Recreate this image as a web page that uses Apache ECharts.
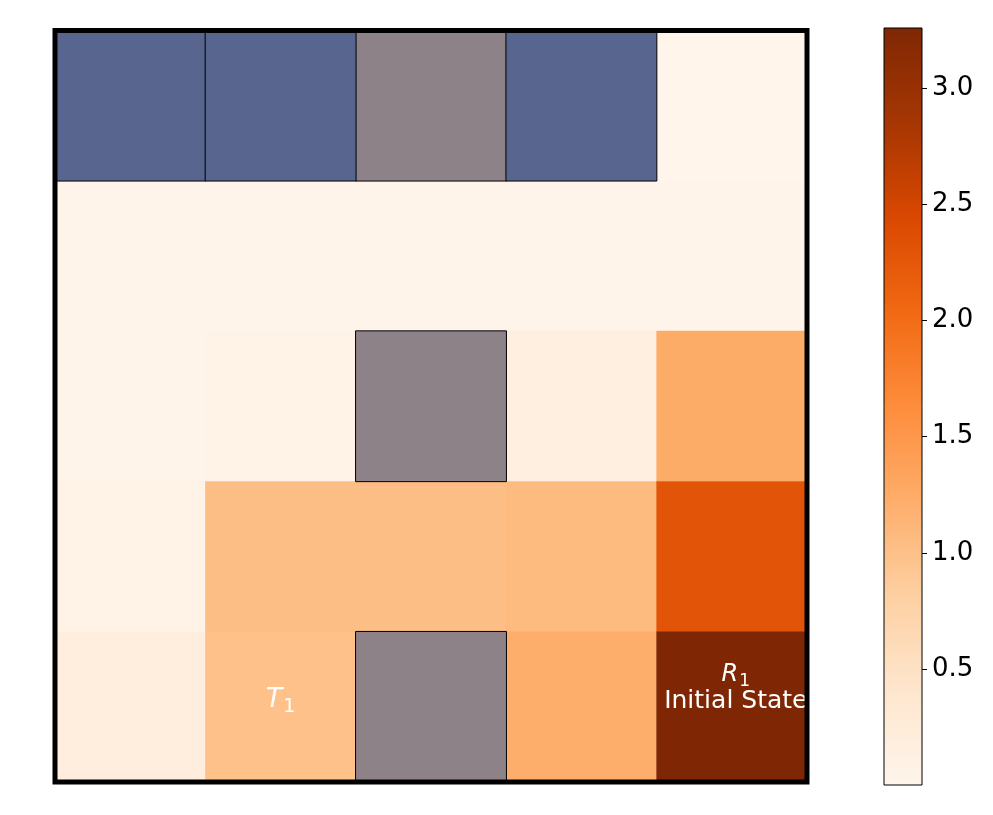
<!DOCTYPE html>
<html>
<head>
<meta charset="utf-8">
<script src="https://cdn.jsdelivr.net/npm/echarts@6/dist/echarts.min.js"></script>
<style>
  html, body { margin: 0; padding: 0; background: #fff; }
  #chart { width: 993px; height: 815px; }
</style>
</head>
<body>
<div id="chart"></div>
<script>
// ---- data ----
const cols = ['0', '1', '2', '3', '4'];
const rows = ['0', '1', '2', '3', '4'];   // row 0 is drawn at the top

// value cells: [col, row, value]
const valueCells = [
  [4, 0, 0.01],
  [0, 1, 0.02], [1, 1, 0.02], [2, 1, 0.02], [3, 1, 0.02], [4, 1, 0.02],
  [0, 2, 0.03], [1, 2, 0.06], [3, 2, 0.15], [4, 2, 1.25],
  [0, 3, 0.07], [1, 3, 1.03], [2, 3, 1.03], [3, 3, 1.07], [4, 3, 2.3],
  [0, 4, 0.18], [1, 4, 1.0], [3, 4, 1.22], [4, 4, 3.26],
];
// wall cells and visited cells: [col, row]
const wallCells = [[2, 0], [2, 2], [2, 4]];
const blueCells = [[0, 0], [1, 0], [3, 0]];

const cellLabels = [
  { col: 1, row: 4, text: '{i|T}{s|1}', offset: [0, -7] },
  { col: 4, row: 4, text: '{r|R}{s2|1}\n{t|Initial State}', offset: [4, -17] },
];

const cbarMin = 0;
const cbarMax = 3.26;
const cbarTicks = [0.5, 1.0, 1.5, 2.0, 2.5, 3.0];

// matplotlib "Oranges"
const oranges = ['#fff5eb', '#fee6ce', '#fdd0a2', '#fdae6b', '#fd8d3c',
                 '#f16913', '#d94801', '#a63603', '#7f2704'];

// ---- build ----
const chart = echarts.init(document.getElementById('chart'));

const FONT = 'DejaVu Sans';
const heatData = valueCells.map(c => {
  const lab = cellLabels.find(l => l.col === c[0] && l.row === c[1]);
  const item = { value: c };
  if (lab) {
    item.label = {
      show: true,
      formatter: lab.text,
      offset: lab.offset,
      color: '#fff',
      fontFamily: FONT,
      rich: {
        i: { fontSize: 27, fontStyle: 'italic', color: '#fff', fontFamily: FONT, lineHeight: 27, verticalAlign: 'top' },
        s: { fontSize: 19, color: '#fff', fontFamily: FONT, lineHeight: 19, verticalAlign: 'top', padding: [11, 0, 0, 1] },
        r: { fontSize: 24, fontStyle: 'italic', color: '#fff', fontFamily: FONT, lineHeight: 24, verticalAlign: 'top' },
        s2: { fontSize: 17, color: '#fff', fontFamily: FONT, lineHeight: 17, verticalAlign: 'top', padding: [10, 0, 0, 1] },
        t: { fontSize: 25, color: '#fff', fontFamily: FONT, lineHeight: 30 },
      },
    };
  }
  return item;
});

const withFlag = cells => cells.map(c => [c[0], c[1], 1]);
const hiddenAxis = { show: false };

chart.setOption({
  animation: false,
  backgroundColor: '#fff',
  grid: [
    { left: 55, top: 30.5, width: 752, height: 751.5, show: true,
      borderColor: '#000', borderWidth: 5, backgroundColor: 'transparent', z: 10 },
    { left: 884, top: 28, width: 38, height: 757, show: true,
      borderColor: '#000', borderWidth: 1, backgroundColor: 'transparent', z: 10 },
  ],
  xAxis: [
    { type: 'category', data: cols, gridIndex: 0, ...hiddenAxis },
    { type: 'category', data: ['cb'], gridIndex: 1, ...hiddenAxis },
  ],
  yAxis: [
    { type: 'category', data: rows, gridIndex: 0, inverse: true, ...hiddenAxis },
    {
      type: 'value', gridIndex: 1, position: 'right',
      min: cbarMin, max: cbarMax,
      axisLine: { show: false },
      splitLine: { show: false },
      axisTick: { show: true, length: 5, customValues: cbarTicks,
                  lineStyle: { color: '#000', width: 1 } },
      axisLabel: {
        customValues: cbarTicks, margin: 10, color: '#000',
        fontSize: 26, fontFamily: FONT,
        formatter: v => v.toFixed(1),
      },
    },
  ],
  visualMap: {
    show: false,
    seriesIndex: 0,
    dimension: 2,
    min: cbarMin, max: cbarMax,
    inRange: { color: oranges },
  },
  series: [
    {
      type: 'heatmap', xAxisIndex: 0, yAxisIndex: 0,
      data: heatData,
      label: { show: false },
      emphasis: { disabled: true },
    },
    {
      type: 'heatmap', xAxisIndex: 0, yAxisIndex: 0,
      data: withFlag(wallCells),
      itemStyle: { color: '#8c8288', borderColor: '#000', borderWidth: 1 },
      emphasis: { disabled: true },
    },
    {
      type: 'heatmap', xAxisIndex: 0, yAxisIndex: 0,
      data: withFlag(blueCells),
      itemStyle: { color: '#58668f', borderColor: '#000', borderWidth: 1 },
      emphasis: { disabled: true },
    },
    {
      type: 'bar', xAxisIndex: 1, yAxisIndex: 1,
      data: [cbarMax],
      barWidth: '100%',
      silent: true,
      itemStyle: {
        color: {
          type: 'linear', x: 0, y: 1, x2: 0, y2: 0,
          colorStops: oranges.map((c, i) => ({ offset: i / (oranges.length - 1), color: c })),
        },
      },
    },
  ],
});
</script>
</body>
</html>
